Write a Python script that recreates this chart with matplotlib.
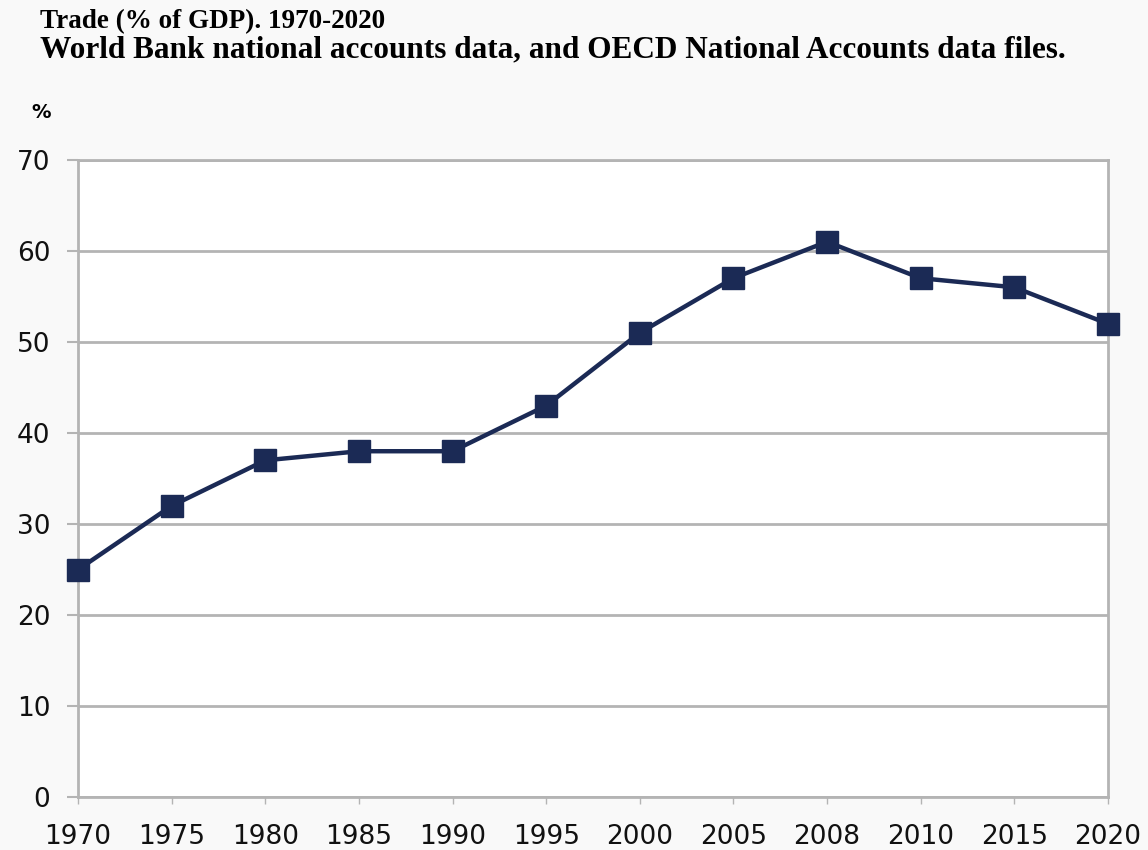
import matplotlib.pyplot as plt
import numpy as np

# Data
years = ['1970', '1975', '1980', '1985', '1990', '1995', '2000', '2005', '2008', '2010', '2015', '2020']
trade_pct = [25, 32, 37, 38, 38, 43, 51, 57, 61, 57, 56, 52]
y_ticks = [0, 10, 20, 30, 40, 50, 60, 70]

title_line1 = 'Trade (% of GDP). 1970-2020'
title_line2 = 'World Bank national accounts data, and OECD National Accounts data files.'

fig = plt.figure(figsize=(11.48, 8.5), dpi=100, facecolor='#f9f9f9')
ax = fig.add_axes([0.068, 0.062, 0.897, 0.750])

x = np.arange(len(years))
ax.plot(x, trade_pct, color='#1b2a55', linewidth=3.2, marker='s', markersize=16,
        markerfacecolor='#1b2a55', markeredgecolor='#1b2a55', zorder=3, clip_on=False)

ax.set_xlim(0, len(years) - 1)
ax.set_ylim(0, 70)
ax.set_xticks(x)
ax.set_xticklabels(years)
ax.set_yticks(y_ticks)

grid_col = '#b4b4b4'
ax.yaxis.grid(True, color=grid_col, linewidth=2)
ax.set_axisbelow(True)
for s in ax.spines.values():
    s.set_color(grid_col)
    s.set_linewidth(2)

ax.tick_params(axis='y', length=8, width=1.5, color=grid_col, labelsize=19, pad=12)
ax.tick_params(axis='x', length=5, width=1, color=grid_col, labelsize=19, pad=14)
for lbl in ax.get_xticklabels() + ax.get_yticklabels():
    lbl.set_color('#111111')

fig.text(0.035, 0.974, title_line1, family='Liberation Serif', weight='bold', fontsize=19.5, va='center')
fig.text(0.035, 0.941, title_line2, family='Liberation Serif', weight='bold', fontsize=22.5, va='center')
fig.text(0.027, 0.868, '%', family='DejaVu Sans', weight='bold', fontsize=14, va='center')

fig.savefig('out.png', dpi=100, facecolor=fig.get_facecolor())
